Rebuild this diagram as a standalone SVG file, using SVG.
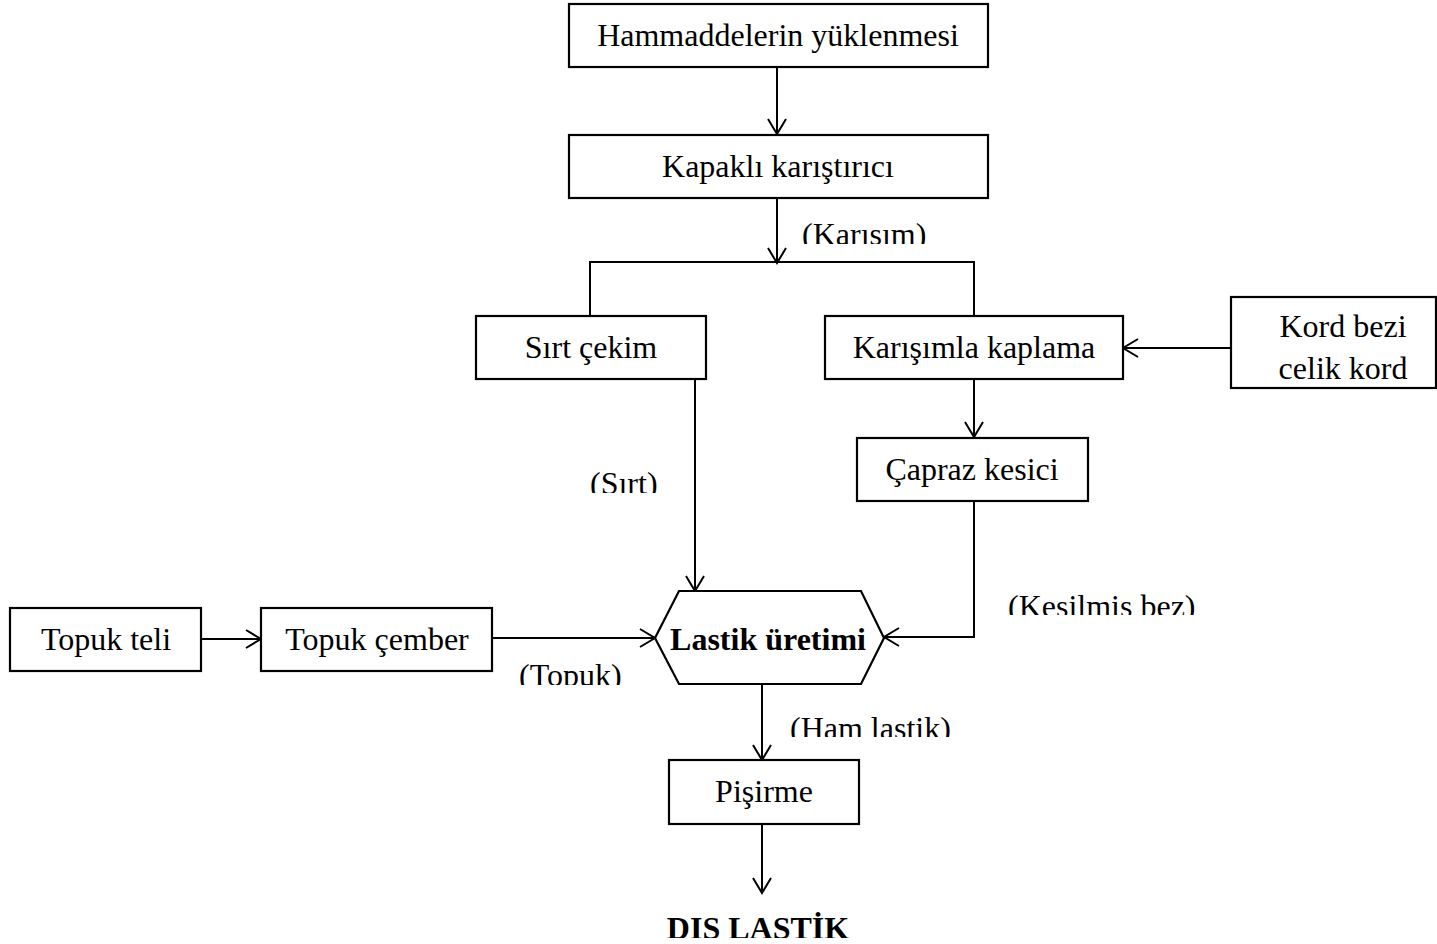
<svg xmlns="http://www.w3.org/2000/svg" width="1437" height="944" viewBox="0 0 1437 944">
<style>
.box{fill:#fff;stroke:#000;stroke-width:2.2}
.t{font-family:"Liberation Serif","Times New Roman",serif;font-size:32px;fill:#000;text-anchor:middle}
.lb{font-family:"Liberation Serif","Times New Roman",serif;font-size:32px;fill:#000}
.b{font-weight:bold}
.c{fill:none;stroke:#000;stroke-width:2}
</style>
<defs>
<marker id="arr" markerUnits="userSpaceOnUse" markerWidth="18" markerHeight="20" viewBox="0 0 18 20" refX="16" refY="10" orient="auto">
<path d="M1,1 L16,10 L1,19" fill="none" stroke="#000" stroke-width="2"/>
</marker>
<clipPath id="cKar"><rect x="790" y="210" width="160" height="34"/></clipPath>
<clipPath id="cSirt"><rect x="580" y="460" width="90" height="33"/></clipPath>
<clipPath id="cKes"><rect x="1000" y="585" width="210" height="30"/></clipPath>
<clipPath id="cTop"><rect x="510" y="650" width="120" height="35"/></clipPath>
<clipPath id="cHam"><rect x="780" y="705" width="180" height="32"/></clipPath>
<clipPath id="cDis"><rect x="640" y="890" width="240" height="48"/></clipPath>
</defs>
<rect width="1437" height="944" fill="#fff"/>
<g id="connectors">
<line class="c" x1="777" y1="67" x2="777" y2="134" marker-end="url(#arr)"/>
<line class="c" x1="777" y1="198" x2="777" y2="263" marker-end="url(#arr)"/>
<polyline class="c" points="590,316 590,262 974,262 974,316"/>
<line class="c" x1="1231" y1="348" x2="1123" y2="348" marker-end="url(#arr)"/>
<line class="c" x1="974" y1="379" x2="974" y2="437" marker-end="url(#arr)"/>
<line class="c" x1="695" y1="379" x2="695" y2="591" marker-end="url(#arr)"/>
<polyline class="c" points="974,501 974,637 884,637" marker-end="url(#arr)"/>
<line class="c" x1="201" y1="639" x2="261" y2="639" marker-end="url(#arr)"/>
<line class="c" x1="492" y1="638" x2="655" y2="638" marker-end="url(#arr)"/>
<line class="c" x1="762" y1="684" x2="762" y2="760" marker-end="url(#arr)"/>
<line class="c" x1="762" y1="824" x2="762" y2="893" marker-end="url(#arr)"/>
<text class="lb" x="802" y="245" clip-path="url(#cKar)">(Karışım)</text>
<text class="lb" x="590" y="494" clip-path="url(#cSirt)">(Sırt)</text>
<text class="lb" x="1008" y="617" clip-path="url(#cKes)">(Kesilmiş bez)</text>
<text class="lb" x="519" y="686" clip-path="url(#cTop)">(Topuk)</text>
<text class="lb" x="790" y="739" clip-path="url(#cHam)">(Ham lastik)</text>
</g>
<g id="n-hammadde"><rect class="box" x="569" y="4" width="419" height="63"/><text class="t" x="778" y="46">Hammaddelerin yüklenmesi</text></g>
<g id="n-kapakli"><rect class="box" x="569" y="135" width="419" height="63"/><text class="t" x="778" y="177">Kapaklı karıştırıcı</text></g>
<g id="n-sirtcekim"><rect class="box" x="476" y="316" width="230" height="63"/><text class="t" x="591" y="358">Sırt çekim</text></g>
<g id="n-kaplama"><rect class="box" x="825" y="316" width="298" height="63"/><text class="t" x="974" y="358">Karışımla kaplama</text></g>
<g id="n-kord"><rect class="box" x="1231" y="297" width="205" height="91"/><text class="t" x="1343" y="337">Kord bezi</text><text class="t" x="1343" y="379">celik kord</text></g>
<g id="n-capraz"><rect class="box" x="857" y="438" width="231" height="63"/><text class="t" x="972" y="480">Çapraz kesici</text></g>
<g id="n-lastik"><polygon class="box" points="655,638 679,591 861,591 884,638 861,684 679,684"/><text class="t b" x="768" y="650">Lastik üretimi</text></g>
<g id="n-topukteli"><rect class="box" x="10" y="608" width="191" height="63"/><text class="t" x="106" y="650">Topuk teli</text></g>
<g id="n-topukcember"><rect class="box" x="261" y="608" width="231" height="63"/><text class="t" x="377" y="650">Topuk çember</text></g>
<g id="n-pisirme"><rect class="box" x="669" y="760" width="190" height="64"/><text class="t" x="764" y="802">Pişirme</text></g>
<g id="n-dis"><text class="t b" x="758" y="939" clip-path="url(#cDis)">DIŞ LASTİK</text></g>
</svg>
